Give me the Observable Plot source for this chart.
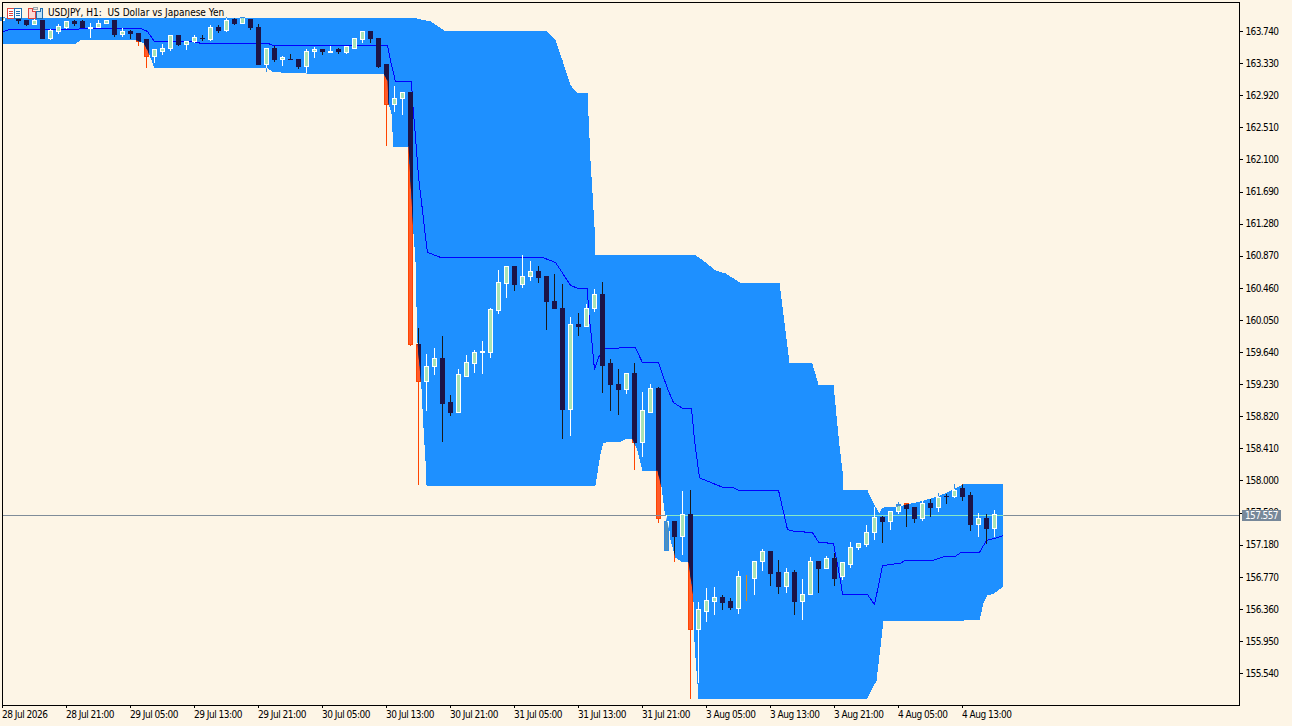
<!DOCTYPE html>
<html><head><meta charset="utf-8">
<style>
html,body{margin:0;padding:0;background:#FDF5E6;overflow:hidden}
#wrap{position:relative;width:1292px;height:726px}
#wrap svg{display:block;shape-rendering:crispEdges}
#wrap g[aria-label="x-axis tick label"]{letter-spacing:-.5px}
#wrap g[aria-label="y-axis tick label"]{letter-spacing:-.6px}
.t{font-family:"DejaVu Sans Condensed","Liberation Sans",sans-serif;font-size:10px}
#legend{position:absolute;left:48px;top:7px;white-space:pre;color:#000}
#bid{position:absolute;left:1242px;width:39px;height:11px;line-height:11px;background:#778899;color:#fff;text-align:center;letter-spacing:-.6px}
.icon{position:absolute;top:7px}
</style>
<script src="https://cdn.jsdelivr.net/npm/d3@7"></script>
<script src="https://cdn.jsdelivr.net/npm/@observablehq/plot@0.6"></script>
</head><body><div id="wrap"></div>
<script>
const opens=[163.87,163.93,163.89,163.88,163.82,163.87,163.64,163.73,163.78,163.86,163.86,163.77,163.79,163.83,163.87,163.69,163.73,163.71,163.63,163.41,163.48,163.52,163.68,163.57,163.60,163.65,163.63,163.79,163.74,163.89,163.84,163.89,163.79,163.31,163.51,163.38,163.38,163.38,163.29,163.48,163.50,163.47,163.50,163.47,163.52,163.63,163.73,163.65,163.31,162.80,162.88,162.95,159.74,159.26,159.45,159.56,158.99,158.87,159.33,159.49,159.63,159.64,160.17,160.52,160.73,160.50,160.60,160.67,160.60,160.29,160.20,158.91,159.99,159.97,160.20,160.37,159.49,159.23,159.16,159.36,158.48,158.87,159.17,157.10,157.48,157.29,157.57,156.10,156.33,156.46,156.51,156.45,156.37,156.77,156.75,156.96,157.09,156.82,156.64,156.82,156.45,156.54,156.96,156.87,157.01,156.77,156.93,157.14,157.18,157.33,157.53,157.48,157.60,157.71,157.65,157.52,157.70,157.66,157.80,157.79,157.90,157.81,157.44,157.52,157.39];
const highs=[163.91,163.95,163.89,163.88,163.89,163.87,163.76,163.83,163.86,163.88,163.88,163.84,163.88,163.87,163.87,163.78,163.75,163.71,163.63,163.50,163.57,163.69,163.69,163.60,163.69,163.69,163.82,163.82,163.92,163.91,163.92,163.89,163.83,163.52,163.55,163.42,163.45,163.38,163.51,163.54,163.50,163.55,163.52,163.55,163.64,163.74,163.73,163.65,163.32,163.04,162.96,162.96,159.95,159.62,159.69,159.85,159.09,159.42,159.60,159.67,159.78,160.20,160.69,160.74,160.73,160.88,160.80,160.74,160.61,160.64,160.51,160.09,160.14,160.25,160.45,160.53,159.55,159.42,159.36,159.50,159.13,159.23,159.19,157.56,157.48,157.87,157.88,156.45,156.63,156.64,156.54,156.50,156.84,156.79,156.97,157.13,157.09,156.99,156.88,156.86,156.74,157.02,156.97,157.04,157.07,156.96,157.22,157.19,157.43,157.66,157.55,157.61,157.73,157.71,157.66,157.74,157.76,157.84,157.83,157.96,157.96,157.85,157.58,157.57,157.62];
const lows=[163.86,163.91,163.83,163.80,163.82,163.64,163.63,163.70,163.77,163.80,163.78,163.65,163.79,163.83,163.66,163.66,163.64,163.55,163.27,163.33,163.43,163.48,163.55,163.50,163.59,163.61,163.61,163.71,163.73,163.82,163.84,163.75,163.31,163.22,163.34,163.29,163.37,163.25,163.19,163.40,163.43,163.47,163.45,163.45,163.52,163.59,163.59,163.27,162.27,162.71,162.67,159.72,157.94,158.89,159.35,158.49,158.82,158.87,159.32,159.37,159.36,159.56,160.13,160.33,160.42,160.46,160.55,160.52,159.92,160.19,158.53,158.57,159.85,159.97,160.15,159.12,158.89,158.84,159.10,158.13,158.30,158.86,157.46,157.10,156.96,157.05,155.21,155.41,156.19,156.28,156.35,156.35,156.30,156.46,156.54,156.84,156.65,156.55,156.56,156.28,156.22,156.54,156.56,156.87,156.65,156.73,156.88,157.11,157.15,157.24,157.20,157.37,157.57,157.41,157.46,157.48,157.53,157.60,157.70,157.78,157.74,157.35,157.28,157.19,157.28];
const closes=[163.91,163.91,163.87,163.82,163.87,163.64,163.74,163.80,163.86,163.84,163.78,163.79,163.84,163.87,163.69,163.73,163.71,163.61,163.41,163.50,163.52,163.68,163.57,163.60,163.66,163.64,163.79,163.74,163.88,163.84,163.91,163.78,163.31,163.51,163.37,163.40,163.37,163.29,163.48,163.50,163.48,163.48,163.48,163.54,163.64,163.73,163.64,163.29,162.80,162.88,162.95,159.74,159.26,159.46,159.56,158.98,158.87,159.35,159.51,159.63,159.65,160.18,160.53,160.73,160.50,160.61,160.67,160.59,160.28,160.19,158.91,159.99,159.97,160.20,160.37,159.47,159.22,159.16,159.36,158.48,158.89,159.17,157.52,157.48,157.29,157.57,156.10,156.35,156.47,156.51,156.44,156.38,156.77,156.77,156.97,157.09,156.81,156.64,156.82,156.45,156.55,156.96,156.87,157.01,156.75,156.95,157.15,157.19,157.34,157.53,157.48,157.61,157.69,157.64,157.52,157.70,157.66,157.78,157.79,157.87,157.80,157.44,157.52,157.39,157.56];

const bandTopBars=[-0.06,51.56,52.31,53.44,55.31,68.06,69.06,69.94,70.94,71.81,73.06,73.44,73.69,73.94,74.06,86.56,87.19,89.06,90.31,92.19,97.06,97.81,98.31,100.94,101.19,101.94,103.81,104.56,104.94,105.06,108.06,108.44,108.94,109.56,109.94,111.81,114.69,116.81,118.81,120.06,125.06];
const bandTopPrices=[163.91,163.91,163.89,163.87,163.74,163.74,163.63,163.37,163.05,162.96,162.96,162.09,161.67,161.24,160.88,160.88,160.84,160.69,160.65,160.53,160.53,159.92,159.51,159.51,159.49,159.23,159.23,158.45,158.13,157.88,157.88,157.79,157.69,157.59,157.66,157.67,157.74,157.80,157.89,157.96,157.96];
const bandLowBars=[-0.06,9.06,9.69,16.56,17.56,18.06,18.69,18.94,33.06,33.81,38.69,47.56,48.06,48.19,48.56,48.69,48.81,50.69,51.31,51.56,51.69,51.81,52.31,52.56,52.81,52.94,74.06,74.31,74.69,75.06,77.19,77.81,78.69,79.31,79.94,81.81,82.31,82.69,83.31,83.44,84.06,84.94,85.69,86.31,86.35,86.56,86.81,86.94,107.94,109.19,110.06,122.06,122.56,123.06,123.81,125.06];
const bandLowPrices=[163.58,163.58,163.63,163.63,163.59,163.50,163.34,163.27,163.27,163.22,163.20,163.20,163.11,162.82,162.69,162.45,162.27,162.27,161.16,160.82,160.22,159.76,159.18,158.68,158.26,157.94,157.94,158.10,158.35,158.49,158.50,158.53,158.53,158.39,158.13,158.13,157.92,157.62,157.37,157.24,157.02,156.96,156.96,156.51,156.09,155.75,155.41,155.21,155.21,155.45,156.21,156.22,156.44,156.54,156.56,156.65];
const midBars=[0.06,0.69,9.31,9.69,17.19,18.06,18.94,23.81,24.69,33.06,33.81,48.06,48.44,49.06,51.06,51.19,51.56,51.94,52.44,52.81,53.06,54.81,67.56,69.06,70.94,71.81,73.06,73.19,73.56,73.94,74.44,75.06,77.44,79.06,79.94,81.94,83.06,83.81,84.94,86.06,86.44,87.06,89.94,91.19,91.94,96.94,98.06,98.81,101.19,101.94,103.81,104.69,104.94,108.06,108.94,109.94,112.19,112.81,116.31,117.81,119.06,119.81,122.06,122.94,124.06,124.94];
const midPrices=[163.74,163.76,163.76,163.78,163.78,163.74,163.61,163.61,163.59,163.59,163.56,163.56,163.37,163.10,163.10,162.86,162.39,161.88,161.45,161.11,160.92,160.85,160.85,160.79,160.50,160.46,160.46,160.18,159.83,159.42,159.58,159.69,159.70,159.70,159.51,159.51,159.18,159.00,158.93,158.93,158.52,158.04,157.92,157.92,157.88,157.88,157.38,157.36,157.34,157.22,157.20,156.73,156.55,156.55,156.42,156.92,156.95,156.99,156.99,157.04,157.04,157.09,157.09,157.24,157.27,157.30];

const priceTicks=[163.74,163.33,162.92,162.51,162.10,161.69,161.28,160.87,160.46,160.05,159.64,159.23,158.82,158.41,158.00,157.59,157.18,156.77,156.36,155.95,155.54];
const timeTickBars=[0,8,16,24,32,40,48,56,64,72,80,88,96,104,112,120];
const timeTickLabels=["28 Jul 2026","28 Jul 21:00","29 Jul 05:00","29 Jul 13:00","29 Jul 21:00","30 Jul 05:00","30 Jul 13:00","30 Jul 21:00","31 Jul 05:00","31 Jul 13:00","31 Jul 21:00","3 Aug 05:00","3 Aug 13:00","3 Aug 21:00","4 Aug 05:00","4 Aug 13:00"];
const bidPrice=157.557;
const legendText="USDJPY, H1:  US Dollar vs Japanese Yen";

const inside={upBody:"#A9E3B5",upEdge:"#FFFFFF",upWick:"#FFFFFF",dnBody:"#1C1448",dnEdge:"#1C1448",dnWick:"#1A1A1A",flat:"#D98A1F"};
const outside={upBody:"#4E8FBF",upEdge:"#2E8CE6",upWick:"#2E8CE6",dnBody:"#FF5A2A",dnEdge:"#FF4500",dnWick:"#FF4500",flat:"#FF4500"};

const candles=opens.map((o,i)=>({i,o,h:highs[i],l:lows[i],c:closes[i],k:closes[i]>o?"up":closes[i]<o?"dn":"flat"}));
const bandPolygon=[...bandTopBars.map((b,j)=>({b,p:bandTopPrices[j]})),...bandLowBars.map((b,j)=>({b,p:bandLowPrices[j]})).reverse()];
const midLine=midBars.map((b,j)=>({b,p:midPrices[j]}));

function candleMarks(pal,cls){
  const wick=d=>d.k==="up"?pal.upWick:d.k==="dn"?pal.dnWick:pal.flat;
  const body=d=>d.k==="up"?pal.upBody:d.k==="dn"?pal.dnBody:pal.flat;
  const edge=d=>d.k==="up"?pal.upEdge:d.k==="dn"?pal.dnEdge:pal.flat;
  const half=2.5/8;
  return [
    Plot.ruleX(candles,{x:"i",y1:"l",y2:"h",stroke:wick,strokeWidth:1,dx:-0.5,className:cls}),
    Plot.rect(candles,{x1:d=>d.i-half,x2:d=>d.i+half,y1:"o",y2:"c",fill:body,stroke:edge,strokeWidth:1,insetLeft:0.5,insetRight:0.5,className:cls})
  ];
}

const axisFont="DejaVu Sans Condensed, Liberation Sans, sans-serif";
const plot=Plot.plot({
  width:1292,height:726,
  marginLeft:2,marginRight:53,marginTop:2,marginBottom:21,
  style:{background:"#FDF5E6",overflow:"visible"},
  x:{domain:[-0.0625,154.5625]},
  y:{domain:[155.133,164.110]},
  color:{type:"identity"},
  marks:[
    ...candleMarks(outside,"outer"),
    Plot.ruleY([bidPrice],{stroke:"#7F8C99",strokeWidth:1}),
    Plot.line(bandPolygon,{x:"b",y:"p",fill:"#1E90FF",stroke:"none",curve:"linear",className:"band"}),
    Plot.ruleY([bidPrice],{stroke:"#86E8C8",strokeWidth:1,className:"inband"}),
    Plot.line(midLine,{x:"b",y:"p",stroke:"#0000FF",strokeWidth:1,curve:"linear"}),
    ...candleMarks(inside,"inband"),
    Plot.frame({stroke:"#000"}),
    Plot.axisX(timeTickBars,{anchor:"bottom",tickSize:3,tickPadding:2,textAnchor:"start",dx:-1,
      tickFormat:b=>timeTickLabels[timeTickBars.indexOf(b)],fontFamily:axisFont,fontSize:10,fill:"#000",stroke:"#000",label:null}),
    Plot.axisY(priceTicks,{anchor:"right",tickSize:3,tickPadding:3,
      tickFormat:p=>p.toFixed(3),fontFamily:axisFont,fontSize:10,fill:"#000",stroke:"#000",label:null})
  ]
});
const wrap=document.getElementById("wrap");
wrap.appendChild(plot);

// Clip the in-band layers to the band's own shape, so candles change colour at its edge.
const bandPath=plot.querySelector(".band path");
const NS="http://www.w3.org/2000/svg";
const defs=document.createElementNS(NS,"defs");
const cp=document.createElementNS(NS,"clipPath");
cp.setAttribute("id","band-clip");
const cpp=document.createElementNS(NS,"path");
cpp.setAttribute("d",bandPath.getAttribute("d"));
const bandT=bandPath.parentNode.getAttribute("transform")||plot.querySelector(".band").getAttribute("transform");
if(bandT)cpp.setAttribute("transform",bandT);
cp.appendChild(cpp);defs.appendChild(cp);plot.insertBefore(defs,plot.firstChild);
plot.querySelectorAll(".inband").forEach(g=>{
  const w=document.createElementNS(NS,"g");
  w.setAttribute("clip-path","url(#band-clip)");
  g.parentNode.insertBefore(w,g);w.appendChild(g);
});

const legend=document.createElement("div");
legend.id="legend";legend.className="t";legend.textContent=legendText;wrap.appendChild(legend);

const bid=document.createElement("div");
bid.id="bid";bid.className="t";bid.textContent=bidPrice.toFixed(3);
bid.style.top=(Math.round(plot.scale("y").apply(bidPrice))-5)+"px";
wrap.appendChild(bid);

const iconA=document.createElement("div");iconA.className="icon";iconA.style.left="7px";
iconA.innerHTML='<svg width="16" height="12"><rect x="0.5" y="1.5" width="7" height="10" fill="#fff" stroke="#E0443E"/><rect x="7.5" y="1.5" width="7" height="10" fill="#fff" stroke="#1F6FB2"/><path d="M2 4h4M2 6h4M2 8h4" stroke="#E0443E"/><path d="M9 4h4M9 6h4M9 8h4" stroke="#1F6FB2"/></svg>';
wrap.appendChild(iconA);
const iconB=document.createElement("div");iconB.className="icon";iconB.style.left="28px";
iconB.innerHTML='<svg width="16" height="12"><path d="M0.5 1.5h4v3h3v7h-7z" fill="#FBD9D5" stroke="#E0443E"/><path d="M9.5 4.5h3v-3h2v10h-6v-7z" fill="#BEE0F7" stroke="#1F6FB2"/><rect x="5.5" y="0.5" width="4" height="2" fill="#E8E8E8" stroke="#9AA5AE"/></svg>';
wrap.appendChild(iconB);
</script></body></html>
